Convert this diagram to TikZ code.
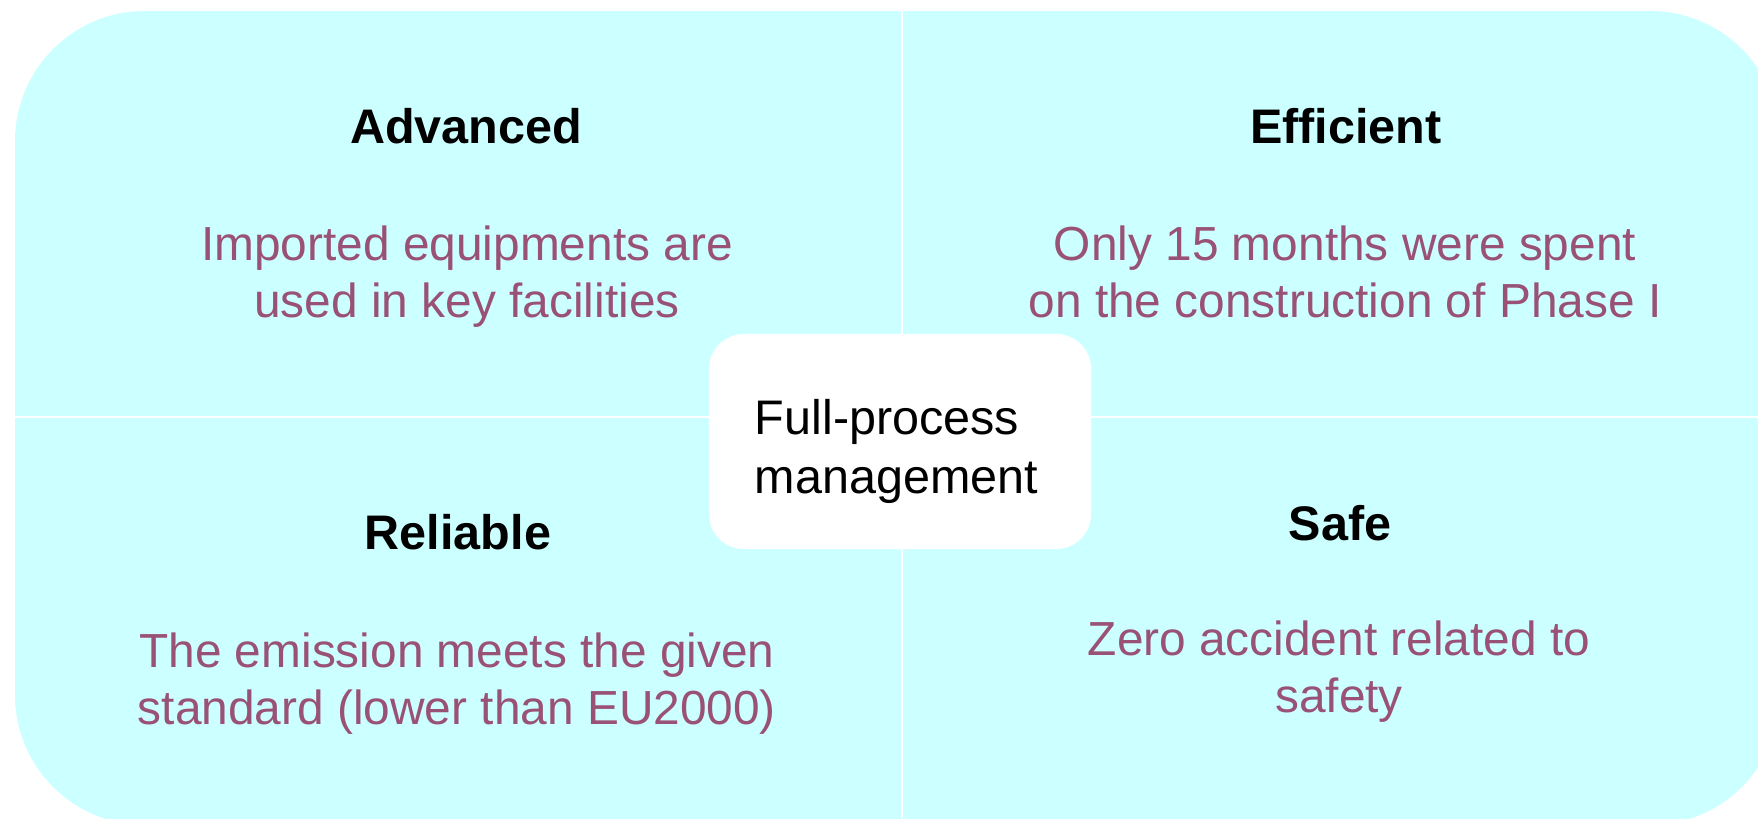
\documentclass[tikz,border=0pt]{standalone}
\usepackage{fontspec}
\setmainfont{Liberation Sans}
\usetikzlibrary{positioning}

\definecolor{panelcyan}{RGB}{204,255,255}
\definecolor{notepurple}{RGB}{153,81,117}

\tikzset{
  head/.style={font=\fontsize{13.8pt}{16.4pt}\selectfont\bfseries,anchor=base},
  note/.style={font=\fontsize{13.6pt}{16.2pt}\selectfont,text=notepurple,align=center,anchor=base},
  hub/.style={fill=white,rounded corners=0.35cm,minimum width=3.82cm,minimum height=2.15cm,
              text width=2.9cm,align=left,text height=0.55cm,font=\fontsize{13.8pt}{16.8pt}\selectfont},
  divider/.style={white,line width=0.7pt}
}

\begin{document}
\begin{tikzpicture}[x=0.01cm,y=-0.01cm]
    \useasboundingbox (0,0) rectangle (1758,818);
    \clip (0,0) rectangle (1758,818);
    % background panel and the two dividers
    \fill[panelcyan,rounded corners=1.3cm] (15,11) rectangle (1780,825);
    \draw[divider] (902,11) -- (902,818);
    \draw[divider] (15,417) -- (1758,417);

    % base of a note is its last line
    \node[head] (adv)  at (466,143) {Advanced};
    \node[note] (advn) at (467,317) {Imported equipments are\\used in key facilities};
    \node[head] (eff)  at (1346,143) {Efficient};
    \node[note] (effn) at (1345,317) {Only 15 months were spent\\on the construction of Phase I};
    \node[head] (rel)  at (458,549) {Reliable};
    \node[note] (reln) at (457,724) {The emission meets the given\\standard (lower than EU2000)};
    \node[head] (safe) at (1340,540) {Safe};
    \node[note] (safn) at (1339,712) {Zero accident related to\\safety};

    \node[hub]  (fpm)  at (900,441.5) {Full-process\\management};
\end{tikzpicture}
\end{document}
